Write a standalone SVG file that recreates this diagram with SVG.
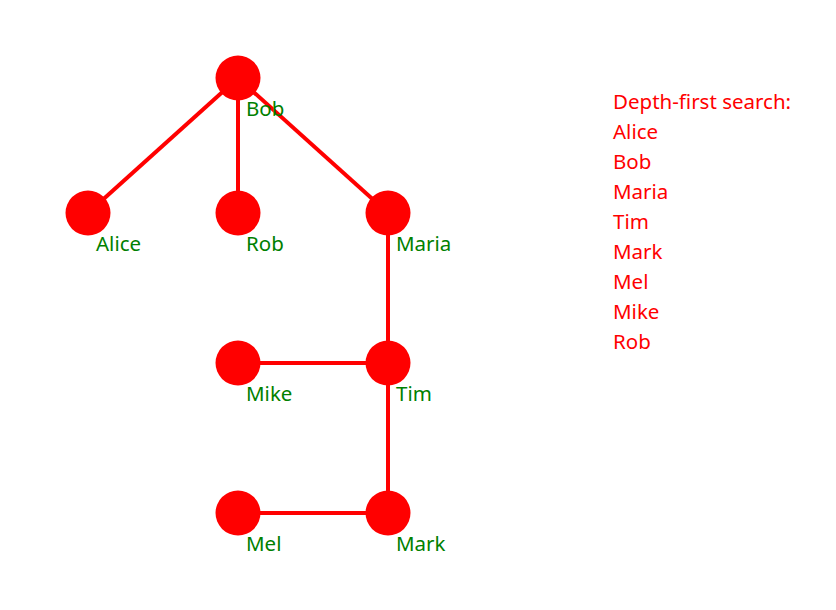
<svg xmlns="http://www.w3.org/2000/svg" width="836" height="610" viewBox="0 0 836 610">
<style>
.e{stroke:#ff0000;stroke-width:4;fill:none}
.n{fill:#ff0000}
.l{fill:#008000;font-family:"Noto Sans","Open Sans",sans-serif;font-size:20.5px}
.s{fill:#ff0000;font-family:"Noto Sans","Open Sans",sans-serif;font-size:20.5px}
</style>
<rect width="836" height="610" fill="#ffffff"/>
<g id="connectors">
<line class="e" x1="238" y1="78" x2="88" y2="213"/>
<line class="e" x1="238" y1="78" x2="238" y2="213"/>
<line class="e" x1="238" y1="78" x2="388" y2="213"/>
<line class="e" x1="388" y1="213" x2="388" y2="363"/>
<line class="e" x1="238" y1="363" x2="388" y2="363"/>
<line class="e" x1="388" y1="363" x2="388" y2="513"/>
<line class="e" x1="238" y1="513" x2="388" y2="513"/>
</g>
<g id="bob"><circle class="n" cx="238" cy="78" r="22.5"/><text class="l" x="246" y="116">Bob</text></g>
<g id="alice"><circle class="n" cx="88" cy="213" r="22.5"/><text class="l" x="96" y="251">Alice</text></g>
<g id="rob"><circle class="n" cx="238" cy="213" r="22.5"/><text class="l" x="246" y="251">Rob</text></g>
<g id="maria"><circle class="n" cx="388" cy="213" r="22.5"/><text class="l" x="396" y="251">Maria</text></g>
<g id="mike"><circle class="n" cx="238" cy="363" r="22.5"/><text class="l" x="246" y="401">Mike</text></g>
<g id="tim"><circle class="n" cx="388" cy="363" r="22.5"/><text class="l" x="396" y="401">Tim</text></g>
<g id="mel"><circle class="n" cx="238" cy="513" r="22.5"/><text class="l" x="246" y="551">Mel</text></g>
<g id="mark"><circle class="n" cx="388" cy="513" r="22.5"/><text class="l" x="396" y="551">Mark</text></g>
<g id="legend">
<text class="s" x="613" y="109">Depth-first search:</text>
<text class="s" x="613" y="139">Alice</text>
<text class="s" x="613" y="169">Bob</text>
<text class="s" x="613" y="199">Maria</text>
<text class="s" x="613" y="229">Tim</text>
<text class="s" x="613" y="259">Mark</text>
<text class="s" x="613" y="289">Mel</text>
<text class="s" x="613" y="319">Mike</text>
<text class="s" x="613" y="349">Rob</text>
</g>
</svg>
